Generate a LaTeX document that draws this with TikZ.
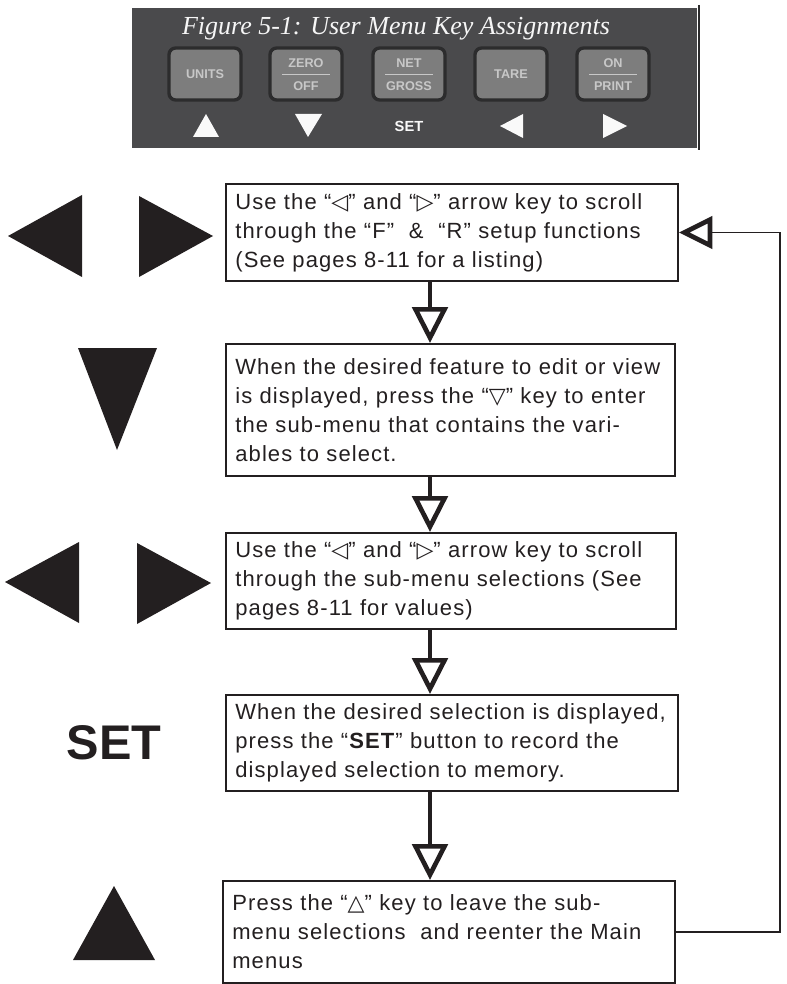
\documentclass[tikz,border=0pt]{standalone}
\usepackage{fontspec}
\setmainfont{Liberation Sans}
\newfontfamily\boxfont{Liberation Sans}[LetterSpace=5.0]
\newfontfamily\symfont{DejaVu Sans}
\newfontfamily\capfont{Liberation Serif}
\usetikzlibrary{arrows.meta}
\hyphenpenalty=10000

\definecolor{panel}{HTML}{4A4A4C}
\definecolor{keygray}{HTML}{7D7D7D}
\definecolor{keyedge}{HTML}{2C2C2D}
\definecolor{keytext}{HTML}{C8C8C8}
\definecolor{ink}{HTML}{231F20}

\newcommand{\tleft}{{\symfont ◁}}
\newcommand{\tright}{{\symfont ▷}}
\newcommand{\tdown}{{\symfont ▽}}
\newcommand{\tup}{{\symfont △}}

\begin{document}
\begin{tikzpicture}[x=0.75pt, y=-0.75pt,
    menubox/.style={draw=ink, line width=1.5pt, inner xsep=7pt, inner ysep=0pt,
        align=left, font=\boxfont\fontsize{16.5}{21.75}\selectfont, text=ink},
    keybox/.style={draw=keyedge, line width=2.5pt, fill=keygray, rounded corners=5pt,
        minimum width=54pt, minimum height=39pt},
    keylabel/.style={font=\bfseries\fontsize{9.5}{10}\selectfont, text=keytext, inner sep=0pt},
    flow/.style={draw=ink, line width=3pt, -{Triangle[open, length=27pt, width=26.5pt, line width=3.5pt]}},
    back/.style={draw=ink, line width=1.1pt, -{Triangle[open, length=25pt, width=24pt, line width=3.5pt]}}]
    \useasboundingbox (0,0) rectangle (787,984);

    % key panel
    \fill[panel] (132,8) rectangle (697,148);
    \draw[keyedge, line width=1.5pt] (699,5) -- (699,150);
    \node[text=white!93!gray, font=\capfont\itshape\fontsize{19.5}{22}\selectfont, anchor=base] (title)
        at (396,35) {Figure 5-1: User Menu Key Assignments};

    \foreach \name/\cx/\keytxt in {units/205/UNITS, tare/511/TARE} {
        \node[keybox] (\name) at (\cx,74) {};
        \node[keylabel] (\name-lbl) at (\cx,74) {\keytxt};
    }
    \foreach \name/\cx/\upper/\lower in {zero/306/ZERO/OFF, net/409/NET/GROSS, on/613/ON/PRINT} {
        \node[keybox] (\name) at (\cx,74) {};
        \node[keylabel] (\name-up) at (\cx,63) {\upper};
        \node[keylabel] (\name-lo) at (\cx,86) {\lower};
        \draw[keytext, line width=0.6pt] ({\cx-24},74) -- ({\cx+24},74);
    }

    % symbols under the keys
    \fill[white!95!gray] (193,137) -- (219,137) -- (206,114) -- cycle;
    \fill[white!95!gray] (295,114) -- (322,114) -- (308,137) -- cycle;
    \node[font=\bfseries\fontsize{11}{12}\selectfont, text=white!95!gray] (setkey) at (409,126) {SET};
    \fill[white!95!gray] (500,126) -- (523,114) -- (523,138) -- cycle;
    \fill[white!95!gray] (603,114) -- (603,138) -- (627,126) -- cycle;

    % big key symbols
    \fill[ink] (8,236) -- (82,195) -- (82,277) -- cycle;
    \fill[ink] (139,196) -- (139,277) -- (213,236) -- cycle;
    \fill[ink] (78,348) -- (157,348) -- (117,450) -- cycle;
    \fill[ink] (5,582) -- (79,542) -- (79,623) -- cycle;
    \fill[ink] (137,543) -- (137,624) -- (211,583) -- cycle;
    \node[font=\bfseries\fontsize{36.5}{40}\selectfont, text=ink] (setbig) at (114,743) {SET};
    \fill[ink] (73,960) -- (155,960) -- (114,886) -- cycle;

    % steps
    \node[menubox, text width=325pt, minimum height=72.75pt] (scroll) at (452,232.5)
        {Use the “\tleft” and “\tright” arrow key to scroll\\
         through the “F”\ \ \&\ \ “R” setup functions\\
         (See pages 8-11 for a listing)};
    \node[menubox, text width=322.75pt, minimum height=99pt] (feature) at (450.5,410)
        {When the desired feature to edit or view\\
         is displayed, press the “\tdown” key to enter\\
         the sub-menu that contains the vari-\\
         ables to select.};
    \node[menubox, text width=323.5pt, minimum height=72pt] (subscroll) at (451,581)
        {Use the “\tleft” and “\tright” arrow key to scroll\\
         through the sub-menu selections (See\\
         pages 8-11 for values)};
    \node[menubox, text width=325pt, minimum height=72pt] (record) at (452,743)
        {When the desired selection is displayed,\\
         press the “\textbf{SET}” button to record the\\
         displayed selection to memory.};
    \node[menubox, text width=325pt, minimum height=76.5pt] (leave) at (449,932)
        {Press the “\tup” key to leave the sub-\\
         menu selections\ \ and reenter the Main\\
         menus};

    \coordinate (spine) at (430,0);
    \foreach \a/\b in {scroll/feature, feature/subscroll, subscroll/record, record/leave}
        \draw[flow] (\a.south -| spine) -- (\b.north -| spine);
    \draw[back] (leave.east) -- ++(104,0) |- (scroll.east);
\end{tikzpicture}
\end{document}
